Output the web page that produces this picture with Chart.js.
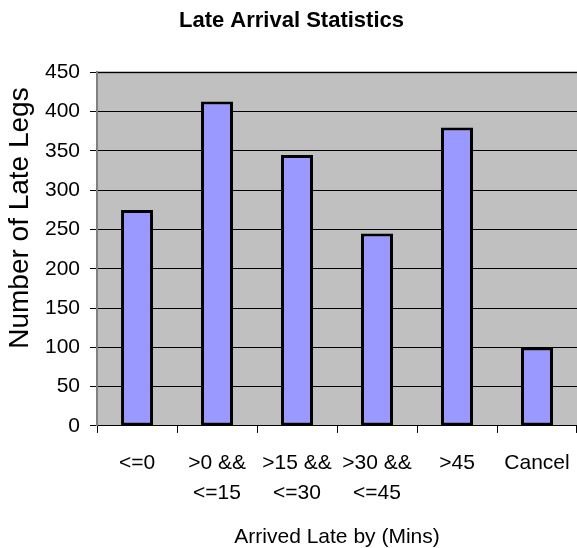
<!DOCTYPE html>
<html>
<head>
	<meta charset="utf-8">
	<script src="https://cdn.jsdelivr.net/npm/chart.js"></script>
	<title>Late Arrival Statistics</title>
	<style type="text/css">
		body{
			margin: 0;
			background: #fff;
		}
	</style>
</head>
<body>
<canvas id="myChart" width="577" height="548"></canvas>
<script>
  const categories = [
    '<=0',
    ['>0 &&', '<=15'],
    ['>15 &&', '<=30'],
    ['>30 &&', '<=45'],
    '>45',
    'Cancel'
  ];
  const lateLegs = [275, 413, 345, 245, 380, 100];
  const yTicks = [0, 50, 100, 150, 200, 250, 300, 350, 400, 450];

  // gray plot background + darker frame, like the old Excel chart
  const plotBg = {
    id: 'plotBg',
    beforeDraw(chart){
      const a = chart.chartArea;
      const ctx = chart.ctx;
      ctx.save();
      ctx.fillStyle = '#c0c0c0';
      ctx.fillRect(a.left, a.top, a.right - a.left, a.bottom - a.top);
      ctx.strokeStyle = '#808080';
      ctx.lineWidth = 2;
      ctx.beginPath();
      ctx.moveTo(a.left, a.bottom);
      ctx.lineTo(a.left, a.top);
      ctx.lineTo(a.right, a.top);
      ctx.stroke();
      ctx.restore();
    }
  };

  const font = 'Arial, "Liberation Sans", sans-serif';

  const data = {
    labels: categories,
    datasets: [{
      label: 'Late Legs',
      backgroundColor: '#9999ff',
      borderColor: '#000',
      borderWidth: 3,
      borderSkipped: false,
      data: lateLegs,
      barPercentage: 0.4,
      categoryPercentage: 1
    }]
  };

  const config = {
    type: 'bar',
    data: data,
    plugins: [plotBg],
    options: {
      responsive: false,
      animation: false,
      layout: { padding: { left: 6, right: 0, top: 0, bottom: 0 } },
      plugins: {
        legend: { display: false },
        tooltip: { enabled: false },
        title: {
          display: true,
          text: 'Late Arrival Statistics',
          color: '#000',
          font: { family: font, size: 22, weight: 'bold', lineHeight: 1.2 },
          padding: { top: 8, bottom: 38 }
        }
      },
      scales: {
        x: {
          offset: true,
          // plot runs right up to the edge of the picture
          afterFit(scale){
            scale.paddingRight = 0;
            scale.paddingLeft = 0;
          },
          grid: { offset: true, drawOnChartArea: false, color: '#000', tickLength: 7 },
          border: { color: '#000', width: 1 },
          ticks: {
            color: '#000',
            maxRotation: 0,
            autoSkip: false,
            padding: 15,
            font: { family: font, size: 21, lineHeight: 1.43 }
          },
          title: {
            display: true,
            text: 'Arrived Late by (Mins)',
            color: '#000',
            font: { family: font, size: 21, lineHeight: 1 },
            padding: { top: 4, bottom: 0 }
          }
        },
        y: {
          min: 0,
          max: 450,
          afterBuildTicks(axis){
            axis.ticks = yTicks.map(v => ({ value: v }));
          },
          grid: { color: '#000', tickLength: 7 },
          border: { color: '#808080', width: 2 },
          ticks: {
            color: '#000',
            padding: 10,
            font: { family: font, size: 21 }
          },
          title: {
            display: true,
            // leading spaces nudge the rotated title up, as in the original
            text: '        Number of Late Legs',
            color: '#000',
            font: { family: font, size: 28, lineHeight: 1 },
            padding: { top: 0, bottom: 1 }
          }
        }
      }
    }
  };

  const myChart = new Chart(document.getElementById('myChart'), config);
</script>
</body>
</html>
